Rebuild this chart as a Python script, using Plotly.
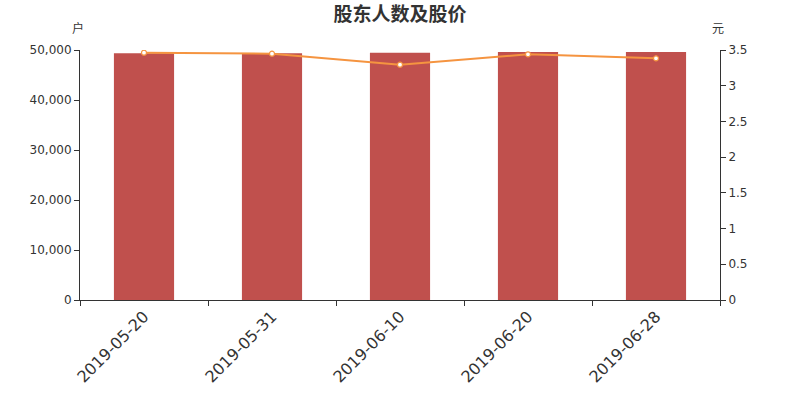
import plotly.graph_objects as go

dates = ["2019-05-20", "2019-05-31", "2019-06-10", "2019-06-20", "2019-06-28"]
holders = [49330, 49330, 49460, 49600, 49600]
prices = [3.462, 3.448, 3.294, 3.440, 3.383]

fig = go.Figure()
fig.add_trace(go.Bar(x=dates, y=holders, marker=dict(color="#c0504d", line=dict(width=0)),
                     width=0.47, name="股东人数"))
fig.add_trace(go.Scatter(x=dates, y=prices, yaxis="y2", mode="lines+markers",
                         line=dict(color="#f59440", width=2),
                         marker=dict(size=5, color="white", line=dict(color="#f59440", width=1.2)),
                         name="股价"))

axis_font = dict(family="DejaVu Sans", size=12, color="#333333")
fig.update_layout(
    width=800, height=400,
    margin=dict(l=80, r=80, t=50, b=100, autoexpand=False),
    paper_bgcolor="white", plot_bgcolor="white",
    showlegend=False,
    title=dict(text="<b>股东人数及股价</b>", x=0.5, xanchor="center", y=0.965, yanchor="middle",
               font=dict(family="Noto Sans CJK SC", size=19, color="#333333")),
    xaxis=dict(type="category", showline=True, linecolor="#333333", linewidth=1,
               ticks="outside", tickson="boundaries", ticklen=5, tickcolor="#333333",
               tickangle=-45, tickfont=dict(family="DejaVu Sans", size=16, color="#333333"),
               showgrid=False, zeroline=False, automargin=False),
    yaxis=dict(range=[0, 50000], tickvals=[0, 10000, 20000, 30000, 40000, 50000],
               tickformat=",d", showline=True, linecolor="#333333", ticks="outside",
               ticklen=5, tickcolor="#333333", tickfont=axis_font, showgrid=False,
               zeroline=False, automargin=False),
    yaxis2=dict(range=[0, 3.5], tickvals=[0, 0.5, 1, 1.5, 2, 2.5, 3, 3.5],
                ticktext=["0", "0.5", "1", "1.5", "2", "2.5", "3", "3.5"],
                overlaying="y", side="right", showline=True, linecolor="#333333",
                ticks="outside", ticklen=5, tickcolor="#333333", tickfont=axis_font,
                showgrid=False, zeroline=False, automargin=False),
    annotations=[
        dict(text="户", xref="paper", yref="paper", x=-0.003, y=1.09, showarrow=False,
             xanchor="center", yanchor="middle",
             font=dict(family="Noto Sans CJK SC", size=12, color="#333333")),
        dict(text="元", xref="paper", yref="paper", x=0.997, y=1.09, showarrow=False,
             xanchor="center", yanchor="middle",
             font=dict(family="Noto Sans CJK SC", size=12, color="#333333")),
    ],
)

fig.write_html("out.html", config={"displayModeBar": False},
               post_script="document.body.style.margin='0';")
